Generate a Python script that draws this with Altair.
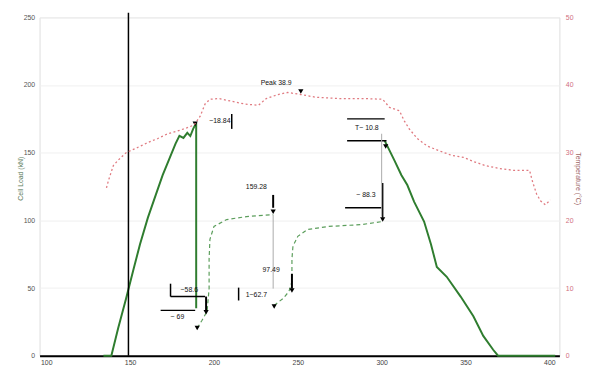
import altair as alt
import pandas as pd

FONT = "Liberation Sans"

# ---- data ----
# green solid (ramp-up, drop, ramp-down) in left-axis units
g1_x = [134.1, 138.8, 142.9, 147.6, 151.8, 155.9, 160.6, 165.3, 169.4, 173.5, 177.1, 179.4, 181.8, 184.1, 185.9, 187.6, 189.4, 189.4]
g1_y = [0, 0, 20.4, 42.3, 62.7, 82.4, 102.0, 118.8, 133.4, 145.8, 156.7, 162.5, 160.9, 164.7, 162.3, 167.6, 172.0, 35.0]
g2_x = [301.8, 307.6, 311.8, 315.3, 319.4, 325.3, 329.4, 332.9, 338.8, 347.1, 354.7, 360.6, 366.5, 369.4, 403.5]
g2_y = [158.9, 144.3, 133.4, 126.1, 113.7, 99.1, 82.4, 65.6, 58.3, 43.7, 29.2, 14.6, 4.4, 0, 0]
# green dashed recovery curves
d1_x = [190.0, 192.9, 195.9, 197.1, 197.1, 197.6, 200.0, 207.6, 219.4, 235.3]
d1_y = [20.4, 26.2, 32.8, 49.6, 71.4, 86.0, 95.5, 100.6, 102.8, 104.2]
d2_x = [235.9, 241.2, 244.7, 246.5, 246.5, 247.1, 250.0, 255.9, 268.2, 288.2, 300.0]
d2_y = [37.2, 42.3, 47.4, 54.7, 71.4, 80.9, 88.2, 93.3, 95.5, 96.9, 99.1]
# red dotted (right axis)
r_x = [135.9, 137.1, 140.0, 142.9, 147.6, 154.7, 160.6, 166.5, 172.4, 178.2, 184.1, 188.2, 191.8, 194.7, 197.6,
       202.9, 210.6, 218.2, 226.5, 231.2, 238.2, 244.1, 251.8, 260.6, 275.3, 290.0, 300.6, 304.7, 310.6, 313.5,
       316.5, 321.2, 327.1, 334.1, 341.8, 348.8, 354.7, 361.8, 369.4, 378.2, 388.2, 390.0, 392.4, 394.7, 397.6, 400.6]
r_y = [24.8, 25.9, 28.1, 28.9, 30.0, 30.8, 31.5, 32.1, 32.8, 33.2, 33.7, 34.1, 35.4, 37.2, 37.9,
       38.0, 37.6, 37.2, 37.0, 38.0, 38.6, 38.9, 38.6, 38.2, 38.0, 38.0, 37.9, 36.7, 36.2, 34.7,
       33.5, 32.1, 31.0, 30.3, 29.6, 29.3, 28.7, 28.1, 27.7, 27.4, 27.4, 25.7, 23.9, 22.9, 22.3, 23.0]

# annotation texts
t_x = [203.5, 237.1, 225.3, 291.2, 290.6, 185.3, 178.2, 234.1, 225.3]
t_y = [173.5, 201.2, 124.6, 168.4, 118.8, 48.8, 28.4, 63.4, 44.5]
t_label = ["~18.84", "Peak 38.9", "159.28", "T~ 10.8", "~ 88.3", "~58.6", "~ 69", "97.49", "1~62.7"]

# annotation arrows (triangle heads)
a_x = [188.8, 251.8, 235.3, 302.4, 300.6, 195.3, 190.0, 235.9, 246.5]
a_y = [171.3, 195.3, 106.4, 154.5, 100.6, 32.1, 20.4, 36.4, 48.1]

# annotation strokes: x, x2, y, y2, width, colour
l_x = [210.6, 235.3, 279.4, 279.4, 300.6, 278.2, 174.1, 174.1, 195.3, 168.2, 214.7, 246.5, 235.3, 300.0, 149.0]
l_x2 = [210.6, 235.3, 301.8, 302.9, 300.6, 300.6, 174.1, 194.7, 195.3, 188.8, 214.7, 246.5, 235.3, 300.0, 149.0]
l_y = [178.6, 118.8, 175.0, 158.9, 127.6, 109.3, 53.2, 43.7, 43.7, 33.5, 50.3, 60.5, 104.2, 164.0, 0]
l_y2 = [167.6, 109.3, 175.0, 158.9, 102.0, 109.3, 43.7, 43.7, 33.5, 33.5, 40.8, 49.6, 49.6, 102.8, 253.5]
l_w = [1.5, 2, 1.5, 1.5, 1.5, 1.5, 1.5, 1.5, 2, 1.5, 1.5, 2, 1, 1, 1.5]
l_c = ["black"] * 12 + ["#aaaaaa", "#aaaaaa", "black"]

XD = [96, 406]
YL = [0, 250]
YR = [0, 50]


def series(xs, ys, seg):
    return pd.DataFrame({"x": xs, "y": ys, "seg": seg, "i": range(len(xs))})


green_solid = pd.concat([series(g1_x, g1_y, "a"), series(g2_x, g2_y, "b")])
green_dash = pd.concat([series(d1_x, d1_y, "a"), series(d2_x, d2_y, "b")])
red = series(r_x, r_y, "r")
texts = pd.DataFrame({"x": t_x, "y": t_y, "label": t_label})
arrows = pd.DataFrame({"x": a_x, "y": a_y})
lines = pd.DataFrame({"x": l_x, "x2": l_x2, "y": l_y, "y2": l_y2, "w": l_w, "c": l_c})

x_axis = alt.Axis(values=[100, 150, 200, 250, 300, 350, 400], title=None, grid=False,
                  ticks=False, domainColor="black", domainWidth=2, labelFontSize=7,
                  labelColor="#444444", labelFont=FONT, labelPadding=3)
xenc = alt.X("x:Q", scale=alt.Scale(domain=XD, nice=False, zero=False), axis=x_axis)

left_axis = alt.Axis(values=[0, 50, 100, 150, 200, 250], title="Cell Load (kN)", grid=True,
                     gridColor="#f0f0f0", ticks=False, domain=False, labelFontSize=7,
                     labelColor="#555555", labelFont=FONT, labelPadding=5,
                     titleFont=FONT, titleFontSize=7, titleFontWeight="normal", titleColor="#5d7d5d",
                     titleX=-19, titleY=163, titleBaseline="middle")


def yleft():
    return alt.Y("y:Q", scale=alt.Scale(domain=YL, nice=False), axis=left_axis)


right_axis = alt.Axis(values=[0, 10, 20, 30, 40, 50], title="Temperature (°C)", orient="right",
                      grid=False, ticks=False, domain=False, labelFontSize=7,
                      labelColor="#d07080", labelFont=FONT, labelPadding=6,
                      titleFont=FONT, titleFontSize=7, titleFontWeight="normal", titleColor="#a06868",
                      titleX=18, titleY=163, titleBaseline="middle")

solid = alt.Chart(green_solid).mark_line(color="#2f7d2f", strokeWidth=2).encode(
    x=xenc, y=yleft(), detail="seg:N", order="i:Q")

dashed = alt.Chart(green_dash).mark_line(color="#5c9e5c", strokeWidth=1.2, strokeDash=[4, 3]).encode(
    x=xenc, y=yleft(), detail="seg:N", order="i:Q")

rules = alt.Chart(lines).mark_rule().encode(
    x=xenc, x2="x2:Q", y=yleft(), y2="y2:Q",
    strokeWidth=alt.StrokeWidth("w:Q", scale=None),
    color=alt.Color("c:N", scale=None))

heads = alt.Chart(arrows).mark_point(shape="triangle-down", filled=True, size=28, color="black", opacity=1).encode(
    x=xenc, y=yleft())

labels = alt.Chart(texts).mark_text(font=FONT, fontSize=7, color="#111111").encode(
    x=xenc, y=yleft(), text="label:N")

left = alt.layer(solid, dashed, rules, heads, labels)

redline = alt.Chart(red).mark_line(color="#e07a80", strokeWidth=1.3, strokeDash=[2, 2.5]).encode(
    x=xenc, y=alt.Y("y:Q", scale=alt.Scale(domain=YR, nice=False), axis=right_axis), order="i:Q")

chart = alt.layer(left, redline).resolve_scale(y="independent").properties(
    width=527, height=343,
    autosize=alt.AutoSizeParams(type="none"),
    padding={"left": 32, "top": 7, "right": 30, "bottom": 12},
).configure_view(stroke=None).configure(background="white")

chart.save("out.html", embed_options={"renderer": "svg", "actions": False})
